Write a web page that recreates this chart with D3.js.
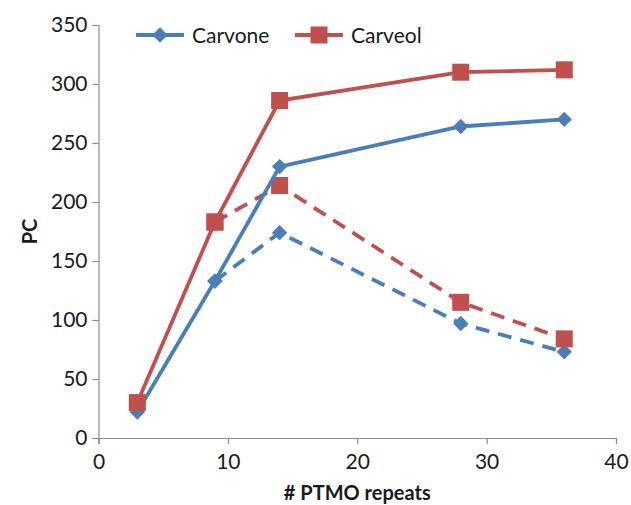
<!DOCTYPE html>
<html>
<head>
<meta charset="utf-8">
<script src="https://cdn.jsdelivr.net/npm/d3@7"></script>
<style>
  body { margin: 0; background: #fff; }
  text { font-family: Lato, "Open Sans", sans-serif; fill: #1a1a1a; }
</style>
</head>
<body>
<svg id="chart"></svg>
<script>
// data
const repeats = [3, 9, 14, 28, 36];
const carvoneSolid = [22, 133, 230, 264, 270];
const carveolSolid = [30, 183, 286, 310, 312];
const carvoneDashedX = [9, 14, 28, 36];
const carvoneDashed = [133, 174, 97, 73];
const carveolDashedX = [9, 14, 28, 36];
const carveolDashed = [183, 214, 115, 84];
const xTicks = [0, 10, 20, 30, 40];
const yTicks = [0, 50, 100, 150, 200, 250, 300, 350];

const width = 631, height = 505;
const margin = { top: 25, right: 15, bottom: 67, left: 98.5 };
const blue = "#4a7ebb", red = "#c0504d";

const svg = d3.select("#chart").attr("width", width).attr("height", height);

const x = d3.scaleLinear().domain([0, 40]).range([margin.left, width - margin.right]);
const y = d3.scaleLinear().domain([0, 350]).range([height - margin.bottom, margin.top]);

// axes
const xAxis = svg.append("g")
  .attr("transform", `translate(0,${y(0)})`)
  .call(d3.axisBottom(x).tickValues(xTicks).tickSize(6).tickPadding(10));
const yAxis = svg.append("g")
  .attr("transform", `translate(${x(0)},0)`)
  .call(d3.axisLeft(y).tickValues(yTicks).tickSize(6).tickPadding(5));

[xAxis, yAxis].forEach(a => {
  a.selectAll("path, line").attr("stroke", "#8c8c8c").attr("stroke-width", 1.2);
  a.selectAll("text").attr("font-size", 21).attr("font-family", "Lato, sans-serif").attr("fill", "#1a1a1a");
});

svg.append("text")
  .attr("x", x(20)).attr("y", 500)
  .attr("text-anchor", "middle")
  .attr("font-size", 20).attr("font-weight", "bold")
  .text("# PTMO repeats");

svg.append("text")
  .attr("transform", `translate(37,${y(175)}) rotate(-90)`)
  .attr("text-anchor", "middle")
  .attr("font-size", 20).attr("font-weight", "bold")
  .text("PC");

const line = d3.line().x(d => x(d[0])).y(d => y(d[1]));
const diamond = d3.symbol().type(d3.symbolDiamond2).size(150);
const square = d3.symbol().type(d3.symbolSquare).size(290);

function series(xs, ys, color, dashed, sym) {
  const pts = xs.map((v, i) => [v, ys[i]]);
  svg.append("path")
    .datum(pts)
    .attr("fill", "none")
    .attr("stroke", color)
    .attr("stroke-width", 3.8)
    .attr("stroke-dasharray", dashed ? "14,9" : null)
    .attr("d", line);
  svg.append("g").selectAll("path")
    .data(pts)
    .join("path")
    .attr("transform", d => `translate(${x(d[0])},${y(d[1])})`)
    .attr("d", sym)
    .attr("fill", color);
}

series(carvoneDashedX, carvoneDashed, blue, true, diamond);
series(carveolDashedX, carveolDashed, red, true, square);
series(repeats, carvoneSolid, blue, false, diamond);
series(repeats, carveolSolid, red, false, square);

// legend
const legend = [
  { name: "Carvone", color: blue, sym: diamond, x0: 136 },
  { name: "Carveol", color: red, sym: square, x0: 295 }
];
const lg = svg.append("g").selectAll("g").data(legend).join("g")
  .attr("transform", d => `translate(${d.x0},35)`);
lg.append("line").attr("x1", 0).attr("x2", 48).attr("stroke", d => d.color).attr("stroke-width", 3.8);
lg.append("path").attr("transform", "translate(24,0)").attr("d", d => d.sym()).attr("fill", d => d.color);
lg.append("text").attr("x", 56).attr("y", 7.5).attr("font-size", 21).text(d => d.name);
</script>
</body>
</html>
